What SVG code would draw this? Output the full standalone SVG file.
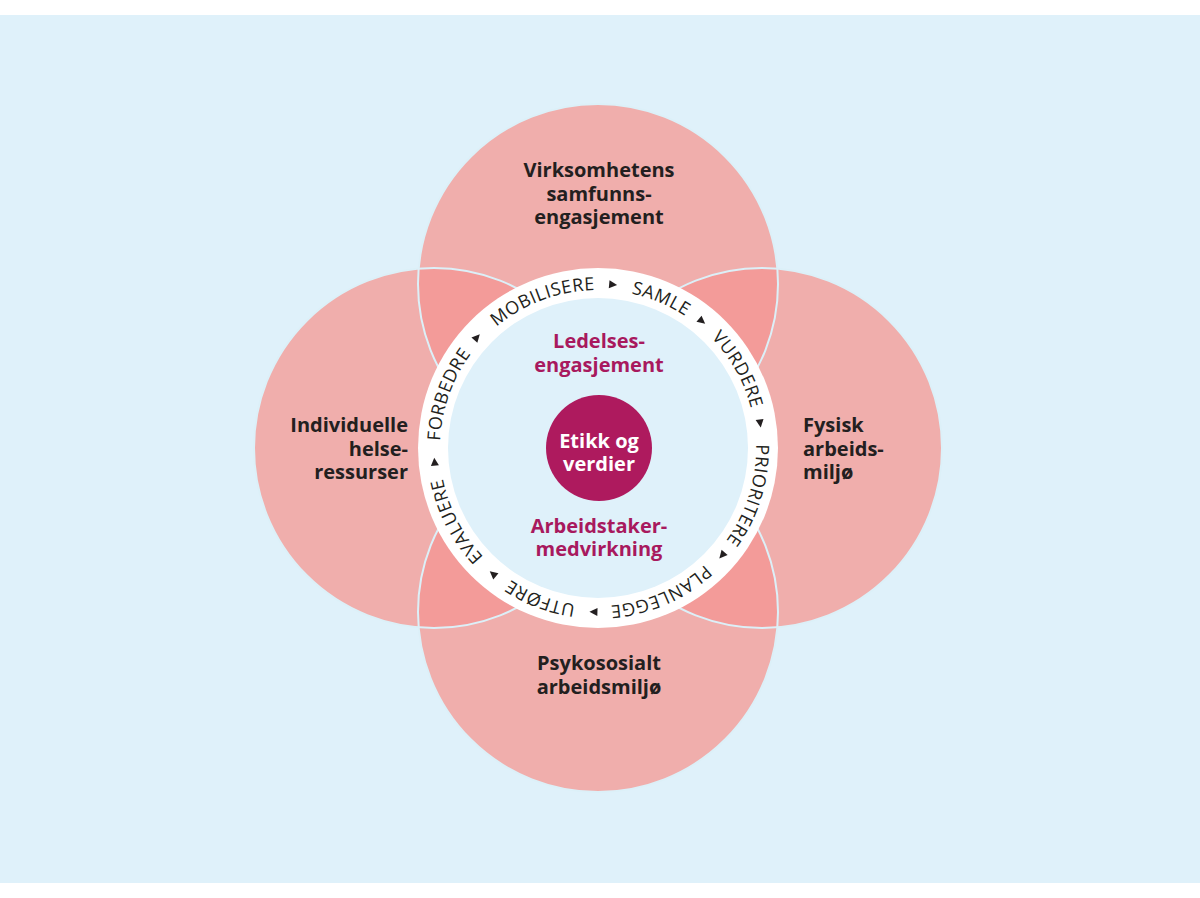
<svg xmlns="http://www.w3.org/2000/svg" width="1200" height="898" viewBox="0 0 1200 898">
<defs>
<style>
.petal{fill:#f0aeac}
.lens{fill:#f39b99}
.outline{fill:none;stroke:#dcf0f8;stroke-width:2}
.lbl{font-family:"Open Sans","Noto Sans","Liberation Sans",sans-serif;font-weight:700;font-size:20px;fill:#231f20}
.mag{fill:#a8195e}
.wht{fill:#ffffff}
.ring{font-family:"Open Sans","Noto Sans","Liberation Sans",sans-serif;font-weight:500;font-size:18px;fill:#231f20;letter-spacing:0.5px}
.arr{fill:#231f20}
</style>
<clipPath id="clipTop"><circle cx="598" cy="284" r="180"/></clipPath>
<clipPath id="clipBottom"><circle cx="598" cy="612" r="180"/></clipPath>
<path id="ringPath" d="M598,290 A158,158 0 1 1 598,606 A158,158 0 1 1 598,290"/>
<polygon id="tri" points="594,280 594,288 602,284"/>
</defs>
<rect x="0" y="0" width="1200" height="898" fill="#ffffff"/>
<rect x="0" y="15" width="1200" height="868" fill="#dff1fa"/>

<g id="node-samfunn">
<circle class="petal" cx="598" cy="284" r="180"/>
<text class="lbl" text-anchor="middle"><tspan x="599" y="177">Virksomhetens</tspan><tspan x="599" y="200.5">samfunns-</tspan><tspan x="599" y="224">engasjement</tspan></text>
</g>
<g id="node-individuelle">
<circle class="petal" cx="434" cy="448" r="180"/>
<text class="lbl" text-anchor="end"><tspan x="408" y="432">Individuelle</tspan><tspan x="408" y="455.5">helse-</tspan><tspan x="408" y="479">ressurser</tspan></text>
</g>
<g id="node-fysisk">
<circle class="petal" cx="762" cy="448" r="180"/>
<text class="lbl" text-anchor="start"><tspan x="803" y="432">Fysisk</tspan><tspan x="803" y="455.5">arbeids-</tspan><tspan x="803" y="479">miljø</tspan></text>
</g>
<g id="node-psykososialt">
<circle class="petal" cx="598" cy="612" r="180"/>
<text class="lbl" text-anchor="middle"><tspan x="599" y="670">Psykososialt</tspan><tspan x="599" y="694">arbeidsmiljø</tspan></text>
</g>

<g id="overlaps">
<circle class="lens" cx="434" cy="448" r="180" clip-path="url(#clipTop)"/>
<circle class="lens" cx="762" cy="448" r="180" clip-path="url(#clipTop)"/>
<circle class="lens" cx="434" cy="448" r="180" clip-path="url(#clipBottom)"/>
<circle class="lens" cx="762" cy="448" r="180" clip-path="url(#clipBottom)"/>
<circle class="outline" cx="598" cy="284" r="180"/>
<circle class="outline" cx="434" cy="448" r="180"/>
<circle class="outline" cx="762" cy="448" r="180"/>
<circle class="outline" cx="598" cy="612" r="180"/>
</g>

<g id="node-ring">
<circle cx="598" cy="448" r="180" fill="#ffffff"/>
<circle cx="598" cy="448" r="150" fill="#dff1fa"/>
<text class="ring"><textPath href="#ringPath" startOffset="94.28%" text-anchor="middle">MOBILISERE</textPath></text>
<text class="ring"><textPath href="#ringPath" startOffset="6.36%" text-anchor="middle">SAMLE</textPath></text>
<text class="ring"><textPath href="#ringPath" startOffset="16.86%" text-anchor="middle">VURDERE</textPath></text>
<text class="ring"><textPath href="#ringPath" startOffset="29.83%" text-anchor="middle">PRIORITERE</textPath></text>
<text class="ring"><textPath href="#ringPath" startOffset="43.47%" text-anchor="middle">PLANLEGGE</textPath></text>
<text class="ring"><textPath href="#ringPath" startOffset="55.83%" text-anchor="middle">UTFØRE</textPath></text>
<text class="ring"><textPath href="#ringPath" startOffset="67.42%" text-anchor="middle">EVALUERE</textPath></text>
<text class="ring"><textPath href="#ringPath" startOffset="80.47%" text-anchor="middle">FORBEDRE</textPath></text>
</g>

<g id="node-ledelse">
<text class="lbl mag" text-anchor="middle"><tspan x="599" y="348">Ledelses-</tspan><tspan x="599" y="372">engasjement</tspan></text>
</g>
<g id="node-arbeidstaker">
<text class="lbl mag" text-anchor="middle"><tspan x="599" y="533">Arbeidstaker-</tspan><tspan x="599" y="556">medvirkning</tspan></text>
</g>
<g id="node-etikk">
<circle cx="599" cy="448" r="53" fill="#ae1a5e"/>
<text class="lbl wht" text-anchor="middle"><tspan x="599" y="448">Etikk og</tspan><tspan x="599" y="471">verdier</tspan></text>
</g>

<g id="connectors">
<use href="#tri" class="arr" transform="rotate(5.3 598 448)"/>
<use href="#tri" class="arr" transform="rotate(39.4 598 448)"/>
<use href="#tri" class="arr" transform="rotate(81.4 598 448)"/>
<use href="#tri" class="arr" transform="rotate(130.9 598 448)"/>
<use href="#tri" class="arr" transform="rotate(181.6 598 448)"/>
<use href="#tri" class="arr" transform="rotate(219.9 598 448)"/>
<use href="#tri" class="arr" transform="rotate(265.2 598 448)"/>
<use href="#tri" class="arr" transform="rotate(312.5 598 448)"/>
</g>
</svg>
